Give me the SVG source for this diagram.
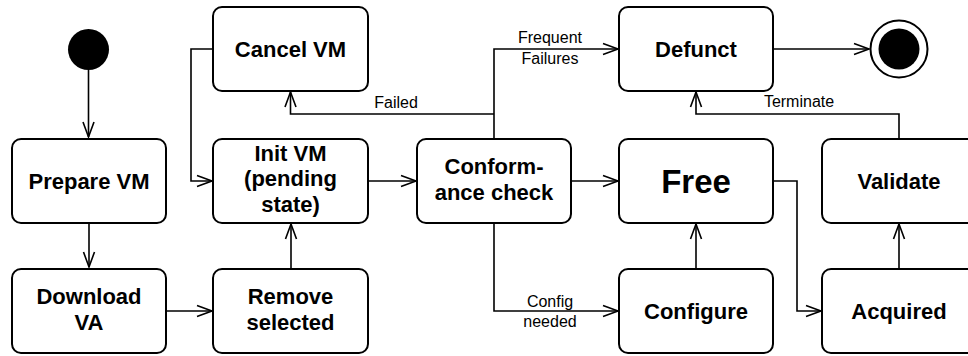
<svg xmlns="http://www.w3.org/2000/svg" width="968" height="356" viewBox="0 0 968 356">
<defs>
<marker id="arr" markerUnits="userSpaceOnUse" markerWidth="18" markerHeight="14" refX="15" refY="6" orient="auto" overflow="visible">
<path d="M0,0.5 L15,6 L0,11.5" fill="none" stroke="#000" stroke-width="1.6"/>
</marker>
</defs>
<style>
.box{fill:#fff;stroke:#000;stroke-width:2}
.n{font-family:"Liberation Sans",Arial,sans-serif;font-weight:bold;font-size:22px;text-anchor:middle;fill:#000}
.e{font-family:"Liberation Sans",Arial,sans-serif;font-size:16px;text-anchor:middle;fill:#000}
.c{fill:none;stroke:#000;stroke-width:1.6;marker-end:url(#arr)}
</style>
<rect width="968" height="356" fill="#fff"/>
<g id="connectors">
<path class="c" d="M88.5,70 V137"/>
<path class="c" d="M89,223 V267"/>
<path class="c" d="M166,311 H212"/>
<path class="c" d="M291,269 V224"/>
<path class="c" d="M213,49 H191 V181 H212"/>
<path class="c" d="M368,181 H416"/>
<path class="c" d="M571,181 H618"/>
<path class="c" d="M494,139 V49 H618"/>
<path class="c" d="M494,114 H290.5 V92"/>
<path class="c" d="M494,223 V311 H618"/>
<path class="c" d="M696,269 V224"/>
<path class="c" d="M773,181 H797 V311 H821"/>
<path class="c" d="M899,269 V224"/>
<path class="c" d="M899,139 V114 H696 V92"/>
<path class="c" d="M773,49 H869"/>
</g>
<g id="labels">
<text class="e" x="396" y="108">Failed</text>
<text class="e" x="550" y="43">Frequent</text>
<text class="e" x="550" y="64">Failures</text>
<text class="e" x="550" y="307">Config</text>
<text class="e" x="550" y="327">needed</text>
<text class="e" x="799" y="107">Terminate</text>
</g>
<g id="start"><circle cx="88.5" cy="49.5" r="20.5" fill="#000"/></g>
<g id="end"><circle cx="899" cy="49" r="28.5" fill="#fff" stroke="#000" stroke-width="2"/><circle cx="899" cy="49" r="20.5" fill="#000"/></g>
<g id="cancel"><rect class="box" x="213" y="7" width="155" height="84" rx="9"/><text class="n" x="290.5" y="56.5">Cancel VM</text></g>
<g id="defunct"><rect class="box" x="619" y="7" width="154" height="84" rx="9"/><text class="n" x="696" y="56.5">Defunct</text></g>
<g id="prepare"><rect class="box" x="12" y="139" width="154" height="84" rx="9"/><text class="n" x="89" y="188.5">Prepare VM</text></g>
<g id="init"><rect class="box" x="213" y="139" width="155" height="84" rx="9"/><text class="n" x="290.5" y="160.5">Init VM</text><text class="n" x="290.5" y="186">(pending</text><text class="n" x="290.5" y="211.5">state)</text></g>
<g id="conformance"><rect class="box" x="417" y="139" width="154" height="84" rx="9"/><text class="n" x="494" y="174">Conform-</text><text class="n" x="494" y="200">ance check</text></g>
<g id="free"><rect class="box" x="619" y="139" width="154" height="84" rx="9"/><text class="n" x="696" y="193" style="font-size:33px">Free</text></g>
<g id="validate"><rect class="box" x="822" y="139" width="154" height="84" rx="9"/><text class="n" x="899" y="188.5">Validate</text></g>
<g id="download"><rect class="box" x="12" y="269" width="154" height="84" rx="9"/><text class="n" x="89" y="304">Download</text><text class="n" x="89" y="330">VA</text></g>
<g id="remove"><rect class="box" x="213" y="269" width="155" height="84" rx="9"/><text class="n" x="290.5" y="304">Remove</text><text class="n" x="290.5" y="330">selected</text></g>
<g id="configure"><rect class="box" x="619" y="269" width="154" height="84" rx="9"/><text class="n" x="696" y="318.5">Configure</text></g>
<g id="acquired"><rect class="box" x="822" y="269" width="154" height="84" rx="9"/><text class="n" x="899" y="318.5">Acquired</text></g>
</svg>
